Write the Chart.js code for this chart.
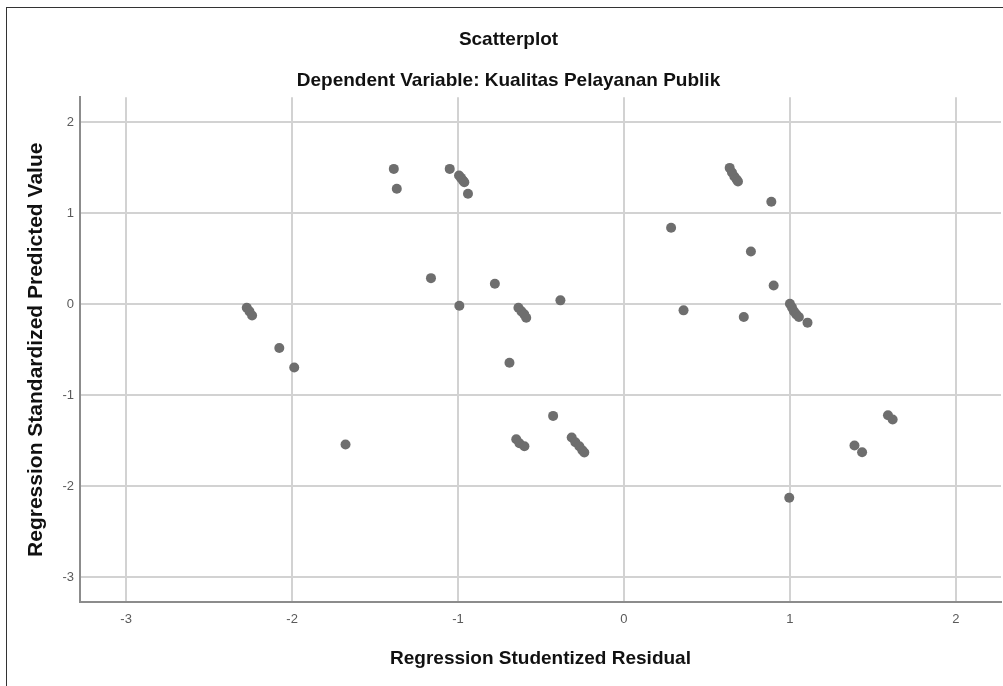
<!DOCTYPE html>
<html>
<head>
<meta charset="utf-8">
<script src="https://cdn.jsdelivr.net/npm/chart.js@4/dist/chart.umd.min.js"></script>
<style>
  html, body { margin: 0; padding: 0; background: #fff; overflow: hidden; }
  #frame { position: absolute; left: 6px; top: 7px; width: 997px; height: 679px;
           border-left: 1px solid #333; border-top: 1px solid #333; box-sizing: border-box; }
  #wrap { position: absolute; left: 0; top: 0; width: 1003px; height: 686px; }
</style>
</head>
<body>
<div id="frame"></div>
<div id="wrap"><canvas id="scatter" width="1003" height="686"></canvas></div>
<script>
// Regression Studentized Residual (x) vs Regression Standardized Predicted Value (y)
const residual = [
  -1.387, -1.369, -1.050, -0.994, -0.982, -0.970, -0.962, -0.940,
  -1.163, -0.778, -0.992, -2.273, -2.257, -2.241, -2.077, -1.987,
  -0.690, -0.383, -0.636, -0.618, -0.601, -0.589,
  0.284, 0.637, 0.651, 0.665, 0.679, 0.687, 0.888, 0.765, 0.902,
  0.359, 0.722, 1.000, 1.012, 1.024, 1.038, 1.054, 1.106,
  -1.678, -0.427, -0.649, -0.630, -0.600, -0.315, -0.293, -0.269, -0.251, -0.239,
  1.591, 1.619, 1.389, 1.435, 0.996
];
const predicted = [
  1.486, 1.267, 1.486, 1.413, 1.387, 1.358, 1.339, 1.212,
  0.285, 0.224, -0.018, -0.040, -0.080, -0.125, -0.483, -0.698,
  -0.644, 0.041, -0.040, -0.080, -0.113, -0.150,
  0.839, 1.497, 1.446, 1.402, 1.369, 1.347, 1.124, 0.578, 0.205,
  -0.069, -0.142, 0.004, -0.036, -0.080, -0.113, -0.142, -0.204,
  -1.543, -1.229, -1.485, -1.529, -1.562, -1.467, -1.518, -1.562, -1.606, -1.631,
  -1.222, -1.269, -1.554, -1.628, -2.129
];
const xTicks = [-3, -2, -1, 0, 1, 2];
const yTicks = [-3, -2, -1, 0, 1, 2];

const points = residual.map((x, i) => ({ x, y: predicted[i] }));
const tickColor = '#5a5a5a';
const gridColor = '#d2d2d2';
const axisColor = '#8c8c8c';
const font = 'Arial, "Liberation Sans", sans-serif';

new Chart(document.getElementById('scatter'), {
  type: 'scatter',
  data: {
    datasets: [{
      data: points,
      backgroundColor: '#6e6e6e',
      borderWidth: 0,
      pointRadius: 5,
      pointHoverRadius: 5,
    }],
  },
  options: {
    responsive: false,
    animation: false,
    events: [],
    layout: { autoPadding: false, padding: { left: 16, right: 2, top: 0, bottom: 0 } },
    plugins: {
      legend: { display: false },
      tooltip: { enabled: false },
      title: {
        display: true,
        text: 'Scatterplot',
        color: '#111',
        font: { family: font, size: 19, weight: 'bold', lineHeight: 1.2 },
        padding: { top: 28.6, bottom: 0 },
      },
      subtitle: {
        display: true,
        text: 'Dependent Variable: Kualitas Pelayanan Publik',
        color: '#111',
        font: { family: font, size: 19, weight: 'bold', lineHeight: 1.2 },
        padding: { top: 18.4, bottom: 4.6 },
      },
    },
    scales: {
      x: {
        type: 'linear',
        min: -3.278,
        max: 2.272,
        afterBuildTicks: (scale) => { scale.ticks = xTicks.map((v) => ({ value: v })); },
        afterFit: (scale) => { scale.height = 83.7; },
        ticks: { color: tickColor, font: { family: font, size: 13 }, padding: 9 },
        grid: { color: gridColor, lineWidth: 2, drawTicks: false },
        border: { display: true, color: axisColor, width: 2 },
        title: {
          display: true,
          text: 'Regression Studentized Residual',
          color: '#111',
          font: { family: font, size: 19, weight: 'bold', lineHeight: 1.2 },
          padding: { top: 0, bottom: 16 },
        },
      },
      y: {
        type: 'linear',
        min: -3.278,
        max: 2.274,
        afterBuildTicks: (scale) => { scale.ticks = yTicks.map((v) => ({ value: v })); },
        afterFit: (scale) => { scale.width = 64; },
        ticks: { color: tickColor, font: { family: font, size: 13 }, padding: 6 },
        grid: { color: gridColor, lineWidth: 2, drawTicks: false },
        border: { display: true, color: axisColor, width: 2 },
        title: {
          display: true,
          text: 'Regression Standardized Predicted Value',
          color: '#111',
          font: { family: font, size: 21, weight: 'bold', lineHeight: 1.2 },
          padding: { top: 8, bottom: 0 },
        },
      },
    },
  },
});
</script>
</body>
</html>
